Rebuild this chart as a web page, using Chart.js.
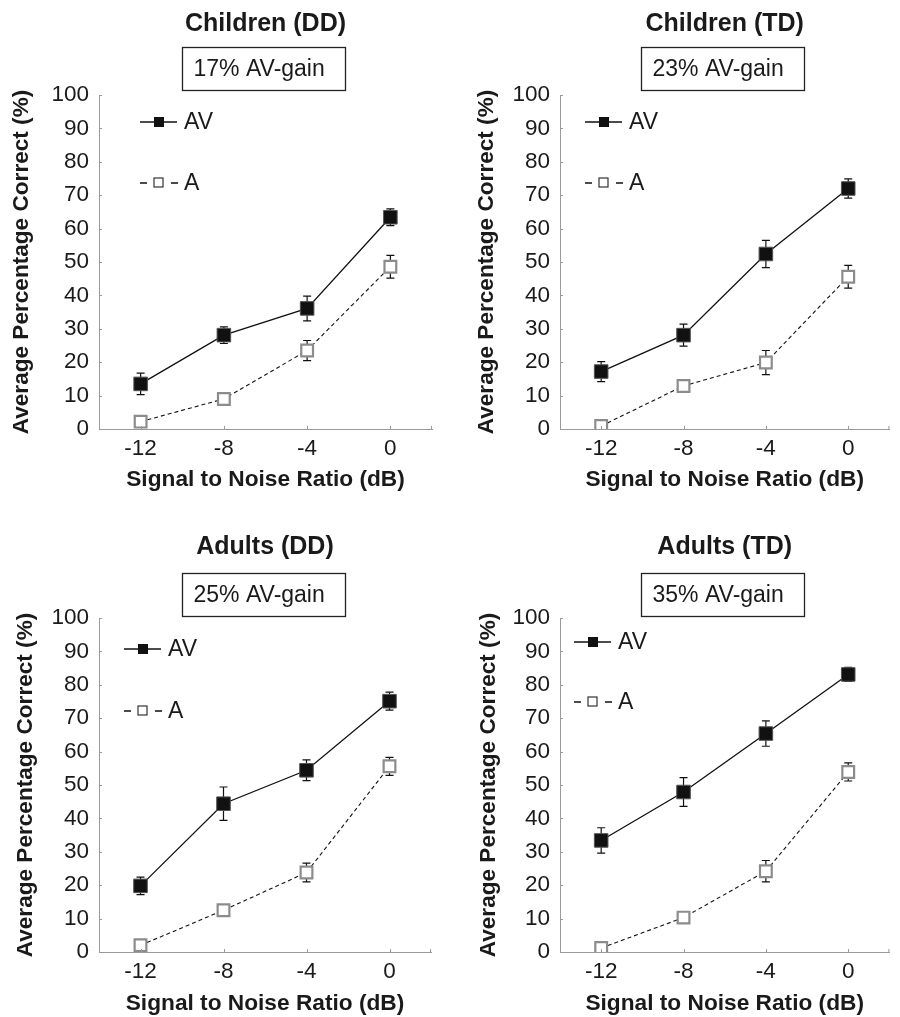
<!DOCTYPE html>
<html>
<head>
<meta charset="utf-8">
<script src="https://cdn.jsdelivr.net/npm/chart.js@4.4.1/dist/chart.umd.min.js"></script>
<style>
  body { margin: 0; background: #fff; width: 900px; height: 1017px; position: relative; overflow: hidden; }
  .panel { position: absolute; width: 450px; }
</style>
</head>
<body>
<div class="panel" style="left:0;top:0;height:500px"><canvas id="c1"></canvas></div>
<div class="panel" style="left:450px;top:0;height:500px"><canvas id="c2"></canvas></div>
<div class="panel" style="left:0;top:500px;height:517px"><canvas id="c3"></canvas></div>
<div class="panel" style="left:450px;top:500px;height:517px"><canvas id="c4"></canvas></div>
<script>
// data
const snrLevels = [-12, -8, -4, 0];
const panelTitles = ["Children (DD)", "Children (TD)", "Adults (DD)", "Adults (TD)"];
const gainLabels = ["17% AV-gain", "23% AV-gain", "25% AV-gain", "35% AV-gain"];

const childDD_AV = [13.5, 28.1, 36.1, 63.4];
const childDD_AVerr = [3.2, 2.5, 3.7, 2.5];
const childDD_A = [2.2, 9.0, 23.5, 48.6];
const childDD_Aerr = [0.8, 0.8, 3.0, 3.4];

const childTD_AV = [17.2, 28.1, 52.4, 72.0];
const childTD_AVerr = [3.0, 3.3, 4.1, 2.9];
const childTD_A = [0.9, 12.9, 19.9, 45.6];
const childTD_Aerr = [0.5, 1.9, 3.6, 3.4];

const adultDD_AV = [19.8, 44.4, 54.4, 75.1];
const adultDD_AVerr = [2.6, 5.0, 3.1, 2.7];
const adultDD_A = [2.0, 12.5, 23.8, 55.6];
const adultDD_Aerr = [0.8, 1.2, 2.8, 2.7];

const adultTD_AV = [33.4, 47.9, 65.4, 83.1];
const adultTD_AVerr = [3.8, 4.3, 3.8, 2.1];
const adultTD_A = [1.2, 10.3, 24.2, 53.9];
const adultTD_Aerr = [0.6, 1.0, 3.2, 2.7];

Chart.defaults.font.family = "'Liberation Sans', Arial, Helvetica, sans-serif";
Chart.defaults.color = "#1a1a1a";

const axisGray = "#9a9a9a";

// layout of each panel (pixels inside its own canvas)
const panels = [
  { id: "c1", av: childDD_AV, avErr: childDD_AVerr, a: childDD_A, aErr: childDD_Aerr,
    yW: 99, padRight: 18, xH: 71, titleTop: 9, yTitlePad: 8.5, xTitlePad: 6.4, boxTop: 47,
    legX: 41, legAV: 27, legA: 88 },
  { id: "c2", av: childTD_AV, avErr: childTD_AVerr, a: childTD_A, aErr: childTD_Aerr,
    yW: 110, padRight: 5, xH: 71, titleTop: 9, yTitlePad: 23.5, xTitlePad: 6.4, boxTop: 47,
    legX: 25, legAV: 27, legA: 88 },
  { id: "c3", av: adultDD_AV, avErr: adultDD_AVerr, a: adultDD_A, aErr: adultDD_Aerr,
    yW: 99, padRight: 19, xH: 65, titleTop: 32, yTitlePad: 12.5, xTitlePad: 0, boxTop: 73,
    legX: 25, legAV: 31, legA: 93 },
  { id: "c4", av: adultTD_AV, avErr: adultTD_AVerr, a: adultTD_A, aErr: adultTD_Aerr,
    yW: 110, padRight: 6, xH: 65, titleTop: 32, yTitlePad: 25.5, xTitlePad: 0, boxTop: 73,
    legX: 14, legAV: 24, legA: 84 },
];

// vertical error bars with caps, under the markers
const errorBars = {
  id: "errorBars",
  beforeDatasetsDraw(chart) {
    const ctx = chart.ctx;
    const y = chart.scales.y;
    ctx.save();
    ctx.strokeStyle = "#111";
    ctx.lineWidth = 1.2;
    chart.data.datasets.forEach((ds, di) => {
      chart.getDatasetMeta(di).data.forEach((pt, i) => {
        const top = y.getPixelForValue(ds.data[i].y + ds.errors[i]);
        const bot = y.getPixelForValue(ds.data[i].y - ds.errors[i]);
        ctx.beginPath();
        ctx.moveTo(pt.x, top); ctx.lineTo(pt.x, bot);
        ctx.moveTo(pt.x - 4, top); ctx.lineTo(pt.x + 4, top);
        ctx.moveTo(pt.x - 4, bot); ctx.lineTo(pt.x + 4, bot);
        ctx.stroke();
      });
    });
    ctx.restore();
  },
};

// inward tick marks, the gain box and the legend
const decorations = {
  id: "decorations",
  afterDraw(chart, args, opts) {
    const ctx = chart.ctx;
    const area = chart.chartArea;
    const xs = chart.scales.x, ys = chart.scales.y;
    ctx.save();
    ctx.strokeStyle = axisGray;
    ctx.lineWidth = 1;
    ctx.beginPath();
    xs.ticks.forEach(t => {
      const px = Math.round(xs.getPixelForValue(t.value)) + 0.5;
      ctx.moveTo(px, area.bottom); ctx.lineTo(px, area.bottom - 3);
    });
    ctx.moveTo(area.right - 0.5, area.bottom); ctx.lineTo(area.right - 0.5, area.bottom - 3);
    ys.ticks.forEach(t => {
      const py = Math.round(ys.getPixelForValue(t.value)) + 0.5;
      ctx.moveTo(area.left, py); ctx.lineTo(area.left + 3, py);
    });
    ctx.stroke();

    // gain box
    const bw = 163, bh = 43;
    const bx = Math.round((area.left + area.right) / 2 - 2 - bw / 2) + 0.5;
    const by = opts.boxTop + 0.5;
    ctx.strokeStyle = "#222";
    ctx.lineWidth = 1.3;
    ctx.strokeRect(bx, by, bw, bh);
    ctx.fillStyle = "#1a1a1a";
    ctx.font = "23px 'Liberation Sans', Arial, sans-serif";
    ctx.textBaseline = "middle";
    ctx.textAlign = "left";
    ctx.fillText(opts.gain, bx + 11, by + bh / 2 + 1);

    // legend
    const lx = area.left + opts.legX;
    const yAV = area.top + opts.legAV;
    const yA = area.top + opts.legA;
    ctx.strokeStyle = "#111";
    ctx.lineWidth = 1.4;
    ctx.beginPath();
    ctx.moveTo(lx, yAV); ctx.lineTo(lx + 37, yAV);
    ctx.stroke();
    ctx.fillStyle = "#111";
    ctx.fillRect(lx + 14, yAV - 5, 10, 10);
    ctx.beginPath();
    ctx.moveTo(lx, yA); ctx.lineTo(lx + 7, yA);
    ctx.moveTo(lx + 31, yA); ctx.lineTo(lx + 38, yA);
    ctx.stroke();
    ctx.fillStyle = "#fff";
    ctx.fillRect(lx + 14, yA - 5, 9, 9);
    ctx.strokeStyle = "#333";
    ctx.lineWidth = 1.2;
    ctx.strokeRect(lx + 14, yA - 5, 9, 9);
    ctx.fillStyle = "#1a1a1a";
    ctx.font = "23px 'Liberation Sans', Arial, sans-serif";
    ctx.fillText("AV", lx + 44, yAV + 1);
    ctx.fillText("A", lx + 44, yA + 1);
    ctx.restore();
  },
};

function toPoints(values) {
  return snrLevels.map((x, i) => ({ x: x, y: values[i] }));
}

panels.forEach((p, k) => {
  new Chart(document.getElementById(p.id), {
    type: "line",
    data: {
      datasets: [
        {
          label: "AV",
          data: toPoints(p.av),
          errors: p.avErr,
          borderColor: "#111",
          borderWidth: 1.3,
          pointStyle: "rect",
          pointRadius: 9.6,
          pointBackgroundColor: "#111",
          pointBorderColor: "#555",
          pointBorderWidth: 1,
        },
        {
          label: "A",
          data: toPoints(p.a),
          errors: p.aErr,
          borderColor: "#111",
          borderWidth: 1.1,
          borderDash: [4, 3],
          pointStyle: "rect",
          pointRadius: 8.3,
          pointBackgroundColor: "#fff",
          pointBorderColor: "#8c8c8c",
          pointBorderWidth: 2.2,
        },
      ],
    },
    options: {
      responsive: true,
      maintainAspectRatio: false,
      animation: false,
      layout: { padding: { left: 0, right: p.padRight, top: 0, bottom: 0 } },
      scales: {
        x: {
          type: "linear",
          min: -14,
          max: 2,
          afterBuildTicks: s => { s.ticks = snrLevels.map(v => ({ value: v })); },
          afterFit: s => { s.height = p.xH; },
          grid: { display: true, drawOnChartArea: false, drawTicks: false },
          border: { display: true, color: axisGray, width: 1 },
          ticks: { font: { size: 22.5 }, padding: 6, color: "#1a1a1a" },
          title: {
            display: true,
            text: "Signal to Noise Ratio (dB)",
            font: { size: 22.7, weight: "bold" },
            padding: { top: 0, bottom: p.xTitlePad },
            color: "#1a1a1a",
          },
        },
        y: {
          min: 0,
          max: 100,
          afterFit: s => { s.width = p.yW; },
          grid: { display: true, drawOnChartArea: false, drawTicks: false },
          border: { display: true, color: axisGray, width: 1 },
          ticks: { stepSize: 10, font: { size: 22.5 }, padding: 10, color: "#1a1a1a" },
          title: {
            display: true,
            text: "Average Percentage Correct (%)",
            font: { size: 22.6, weight: "bold" },
            padding: { top: p.yTitlePad, bottom: 0 },
            color: "#1a1a1a",
          },
        },
      },
      plugins: {
        legend: { display: false },
        tooltip: { enabled: false },
        title: {
          display: true,
          fullSize: false,
          text: panelTitles[k],
          font: { size: 25, weight: "bold" },
          color: "#1a1a1a",
          padding: { top: p.titleTop, bottom: 56 },
        },
        decorations: {
          gain: gainLabels[k],
          boxTop: p.boxTop,
          legX: p.legX,
          legAV: p.legAV,
          legA: p.legA,
        },
      },
    },
    plugins: [errorBars, decorations],
  });
});
</script>
</body>
</html>
